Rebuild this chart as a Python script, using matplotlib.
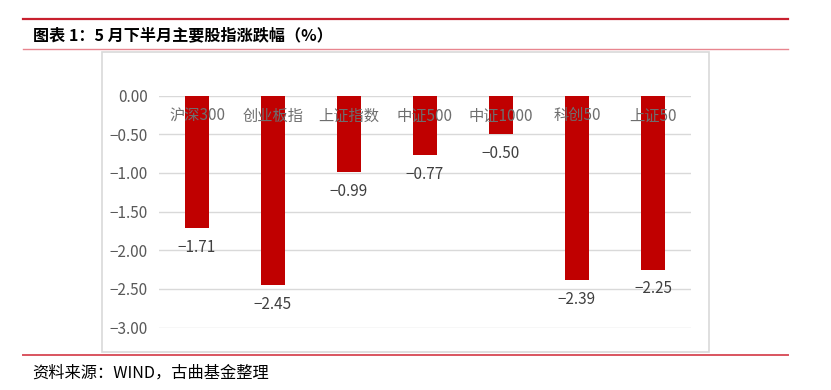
import matplotlib.pyplot as plt
from matplotlib.patches import Rectangle
from matplotlib.lines import Line2D

plt.rcParams['font.family'] = ['Noto Sans CJK SC', 'DejaVu Sans']

# 数据
categories = ['沪深300', '创业板指', '上证指数', '中证500', '中证1000', '科创50', '上证50']
changes = [-1.71, -2.45, -0.99, -0.77, -0.50, -2.39, -2.25]
yticks = [0.0, -0.5, -1.0, -1.5, -2.0, -2.5, -3.0]

title = '图表 1：5 月下半月主要股指涨跌幅（%）'
source = '资料来源：WIND，古曲基金整理'

W, H = 831, 390
fig = plt.figure(figsize=(W / 100, H / 100), dpi=100)

def fx(px):
    return px / W

def fy(py):
    return 1 - py / H

# 图表外框
fig.add_artist(Rectangle((fx(102), fy(352)), fx(709) - fx(102), fy(52) - fy(352),
                         transform=fig.transFigure, facecolor='white',
                         edgecolor='#d9d9d9', lw=1.2, zorder=0))

# 红色分隔线
fig.add_artist(Line2D([fx(23), fx(788)], [fy(19), fy(19)], transform=fig.transFigure,
                      color='#c8202e', lw=1.6))
fig.add_artist(Line2D([fx(23), fx(788)], [fy(49), fy(49)], transform=fig.transFigure,
                      color='#e8858f', lw=1.0))
fig.add_artist(Line2D([fx(23), fx(788)], [fy(355), fy(355)], transform=fig.transFigure,
                      color='#d9545f', lw=1.4))

fig.text(fx(33), fy(35), title, fontsize=11.6, fontweight='bold', color='black',
         ha='left', va='center')
fig.text(fx(32), fy(373), source, fontsize=11.7, color='black', ha='left', va='center')

ax = fig.add_axes([fx(159), fy(327.5), fx(691) - fx(159), fy(95.7) - fy(327.5)])
ax.patch.set_alpha(0)

x = list(range(len(categories)))
ax.bar(x, changes, width=0.31, color='#c00000', zorder=2)

ax.set_xlim(-0.5, len(categories) - 0.5)
ax.set_ylim(-3.0, 0.0)
ax.set_yticks(yticks)
ax.set_yticklabels([f'{v:.2f}'.replace('-', '−') for v in yticks])
ax.yaxis.grid(True, color='#d9d9d9', lw=1.0, zorder=0)
ax.set_axisbelow(True)
ax.set_xticks([])
for s in ax.spines.values():
    s.set_visible(False)
ax.tick_params(axis='y', length=0, pad=8, labelsize=11, labelcolor='#595959')

# 类别标签贴在零轴下方，压在柱子上面
for xi, name in zip(x, categories):
    ax.annotate(name, (xi, 0), xytext=(0, -14.6), textcoords='offset points',
                ha='center', va='center', fontsize=11, color='#6e6e6e', zorder=5)

for xi, v in zip(x, changes):
    ax.annotate(f'{v:.2f}'.replace('-', '−'), (xi, v), xytext=(0, -14),
                textcoords='offset points', ha='center', va='center',
                fontsize=11, color='#404040', zorder=5)

fig.savefig('out.png', dpi=100)
